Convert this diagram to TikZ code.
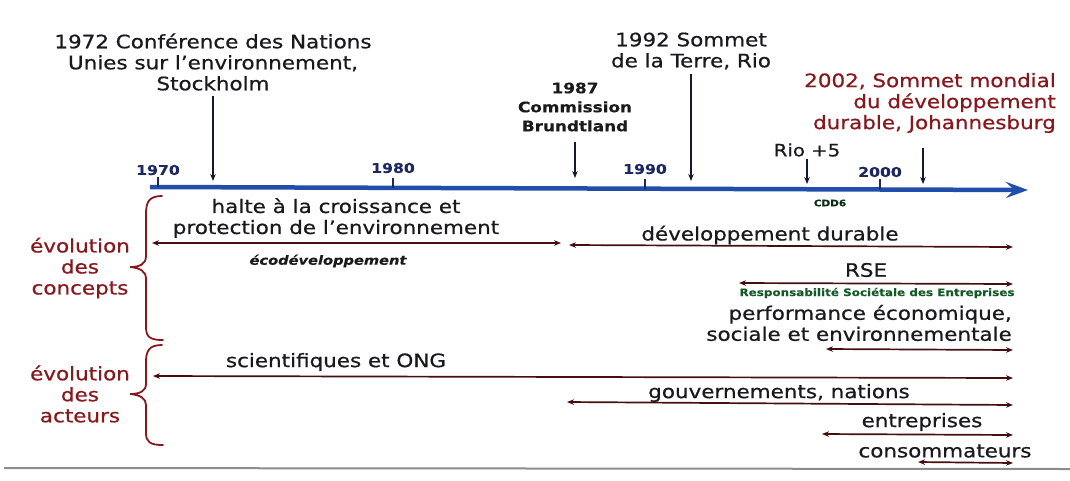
\documentclass[tikz,border=0pt]{standalone}
\usepackage{fontspec}
\setmainfont{DejaVu Sans}[FakeStretch=1.16,FakeBold=0.7,BoldFeatures={FakeBold=0.2},BoldItalicFeatures={FakeBold=0.2}]
\usetikzlibrary{arrows.meta}
\definecolor{ink}{RGB}{25,25,30}
\definecolor{axisblue}{RGB}{32,78,170}
\definecolor{navy}{RGB}{28,40,100}
\definecolor{darkred}{RGB}{135,25,30}
\definecolor{spanc}{RGB}{70,14,14}
\definecolor{evc}{RGB}{22,24,50}
\definecolor{rsegreen}{RGB}{20,90,40}
\begin{document}
\begin{tikzpicture}[x=1pt,y=-1pt,
  txt/.style={font=\fontsize{18.5}{21}\selectfont, text=ink, inner sep=0pt, align=center},
  redtxt/.style={txt, text=darkred},
  smallbold/.style={font=\bfseries\fontsize{14.5}{19}\selectfont, text=ink, inner sep=0pt, align=center},
  yearlbl/.style={font=\bfseries\fontsize{13.5}{15}\selectfont, text=navy, inner sep=0pt},
  spanarrow/.style={draw=spanc, line width=1.7pt, {Stealth[length=7pt,width=5.5pt]}-{Stealth[length=7pt,width=5.5pt]}},
  evarrow/.style={draw=evc, line width=1.7pt, -{Stealth[length=7pt,width=5.5pt]}},
  tickmark/.style={draw=navy, line width=1.4pt},
  bracestyle/.style={draw=darkred, line width=1.8pt, line cap=round}
]
\useasboundingbox (0,0) rectangle (1070,480);

% axis
\coordinate (axL) at (150,187);
\coordinate (axR) at (1028,190);
\draw[draw=axisblue, line width=4.5pt, -{Stealth[length=22pt,width=16pt,inset=8pt]}] (axL) -- (axR);

% ticks and years
\foreach \x/\y/\lab/\ly in {158/187/1970/170, 393/188/1980/168, 645/189/1990/169, 880/189/2000/172}{
  \coordinate (t\lab) at (\x,\y);
  \draw[tickmark] (t\lab) -- ++(0,-10);
  \node[yearlbl] (y\lab) at (\x,\ly) {\lab};
}

% events
\node[txt] (ev72) at (213,62) {1972 Conférence des Nations\\Unies sur l’environnement,\\Stockholm};
\coordinate (a72) at (213,181);
\draw[evarrow] ([yshift=-5pt]ev72.south) -- (a72);

\node[smallbold] (ev87) at (575,107) {1987\\Commission\\Brundtland};
\coordinate (a87) at (575,178);
\draw[evarrow] ([yshift=-10pt]ev87.south) -- (a87);

\node[txt] (ev92) at (691,51) {1992 Sommet\\de la Terre, Rio};
\coordinate (a92) at (691,181);
\draw[evarrow] ([yshift=-4pt]ev92.south) -- (a92);

\node[txt, font=\fontsize{17}{20}\selectfont] (rio5) at (807,150) {Rio +5};
\coordinate (a97) at (807,184);
\draw[evarrow] ([yshift=-2pt]rio5.south) -- (a97);

\node[redtxt, align=right, anchor=east] (ev02) at (1056,103) {2002, Sommet mondial\\du développement\\durable, Johannesburg};
\coordinate (a02) at (923,184);
\coordinate (s02) at (923,148);
\draw[evarrow] (s02) -- (a02);

\node[font=\bfseries\fontsize{9}{10}\selectfont, text=rsegreen!50!black, inner sep=0pt] (cdd) at (830,203) {CDD6};

% braces
\draw[bracestyle] (162,196) .. controls (149,196) and (146,202) .. (146,214) -- (146,256)
  .. controls (146,264) and (140,267) .. (130,267)
  .. controls (140,268) and (146,271) .. (146,279) -- (146,327)
  .. controls (146,337) and (150,340) .. (163,340);
\draw[bracestyle] (162,345) .. controls (149,345) and (146,351) .. (146,362) -- (146,384)
  .. controls (146,391) and (140,394) .. (130,394)
  .. controls (140,395) and (146,398) .. (146,405) -- (146,433)
  .. controls (146,442) and (150,445) .. (163,445);

\node[redtxt] (concepts) at (80,268) {évolution\\des\\concepts};
\node[redtxt] (acteurs) at (80,394) {évolution\\des\\acteurs};

% concepts
\node[txt] (halte) at (336,218) {halte à la croissance et\\protection de l’environnement};
\coordinate (h1) at (152,243); \coordinate (h2) at (561,243);
\draw[spanarrow] (h1) -- (h2);
\node[font=\bfseries\itshape\fontsize{12.6}{14}\selectfont, text=ink, inner sep=0pt] (eco) at (328,261) {écodéveloppement};

\node[txt] (devdur) at (770,235) {développement durable};
\coordinate (d1) at (569,245); \coordinate (d2) at (1013,247);
\draw[spanarrow] (d1) -- (d2);

\node[txt] (rse) at (866,270) {RSE};
\coordinate (r1) at (739,283); \coordinate (r2) at (1013,284);
\draw[spanarrow] (r1) -- (r2);
\node[font=\bfseries\fontsize{10.3}{11}\selectfont, text=rsegreen, inner sep=0pt] (rsefull) at (877,293) {Responsabilité Sociétale des Entreprises};

\node[txt, align=right, anchor=east] (perf) at (1012,323) {performance économique,\\sociale et environnementale};
\coordinate (p1) at (826,349); \coordinate (p2) at (1013,350);
\draw[spanarrow] (p1) -- (p2);

% acteurs
\node[txt] (sci) at (336,362) {scientifiques et ONG};
\coordinate (sc1) at (153,376); \coordinate (sc2) at (1013,378);
\draw[spanarrow] (sc1) -- (sc2);

\node[txt] (gouv) at (779,393) {gouvernements, nations};
\coordinate (g1) at (567,402); \coordinate (g2) at (1013,405);
\draw[spanarrow] (g1) -- (g2);

\node[txt] (entr) at (922,422) {entreprises};
\coordinate (e1) at (822,434); \coordinate (e2) at (1013,435);
\draw[spanarrow] (e1) -- (e2);

\node[txt] (cons) at (945,451) {consommateurs};
\coordinate (c1) at (918,462); \coordinate (c2) at (1013,463);
\draw[spanarrow] (c1) -- (c2);

% bottom rule
\coordinate (b1) at (4,468); \coordinate (b2) at (1070,469);
\draw[draw=black!45, line width=2pt] (b1) -- (b2);
\end{tikzpicture}
\end{document}
